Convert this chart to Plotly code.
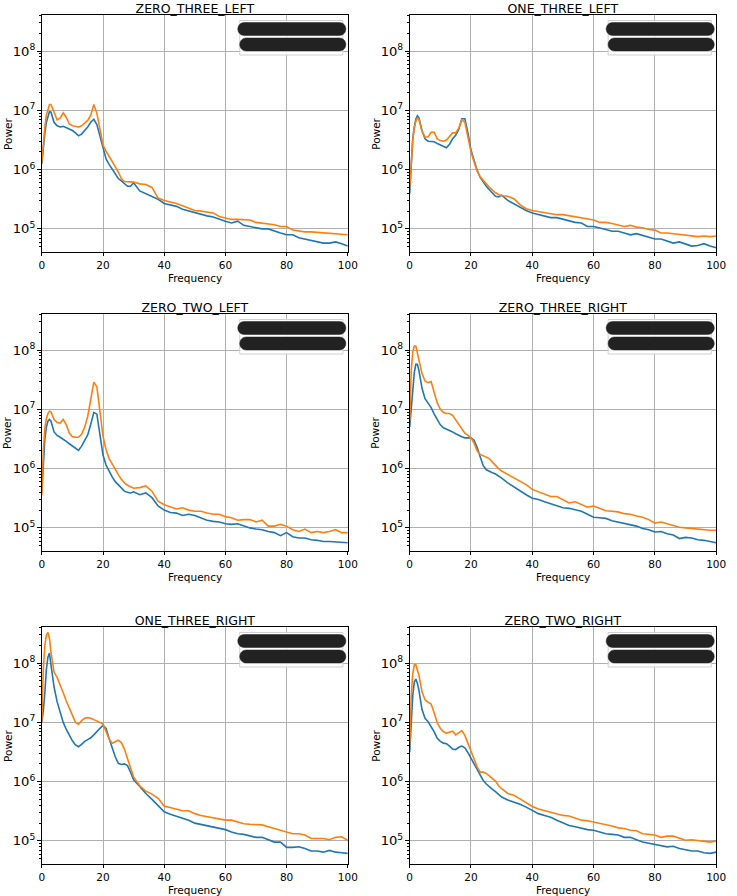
import plotly.graph_objects as go

# ---------------- data (Power values, as log10 decades) -------------
FREQ = [0, 0.5, 1, 1.5, 2, 2.5, 3,
        4, 5, 6, 7, 8, 9, 10, 11, 12, 13, 14, 15, 16, 17, 18, 19, 20,
        21, 22, 23, 24, 25, 26, 27, 28, 29, 30,
        32, 34, 36, 38, 40, 42, 44, 46, 48, 50, 52, 54, 56, 58, 60, 62, 64, 66, 68, 70,
        72, 74, 76, 78, 80, 82, 84, 86, 88, 90, 92, 94, 96, 98, 100]

TITLES = ["ZERO_THREE_LEFT", "ONE_THREE_LEFT", "ZERO_TWO_LEFT",
          "ZERO_THREE_RIGHT", "ONE_THREE_RIGHT", "ZERO_TWO_RIGHT"]

zero_three_left_blue = [6.10, 6.40, 6.62, 6.80, 6.92, 6.98, 6.97,
    6.80, 6.74, 6.72, 6.73, 6.71, 6.68, 6.66, 6.62, 6.57, 6.60, 6.66, 6.72, 6.80, 6.85, 6.76, 6.55, 6.35,
    6.18, 6.09, 6.01, 5.92, 5.85, 5.81, 5.77, 5.72, 5.72, 5.78,
    5.64, 5.59, 5.55, 5.50, 5.43, 5.41, 5.38, 5.33, 5.30, 5.27, 5.24, 5.22, 5.20, 5.16, 5.13, 5.10, 5.13,
    5.06, 5.04, 5.02, 5.00, 5.00, 4.96, 4.93, 4.90, 4.90, 4.85, 4.83, 4.81, 4.79, 4.76, 4.76, 4.78, 4.75, 4.71]
zero_three_left_orange = [6.12, 6.45, 6.72, 6.92, 7.04, 7.10, 7.10,
    6.98, 6.84, 6.87, 6.96, 6.88, 6.77, 6.74, 6.73, 6.72, 6.74, 6.78, 6.83, 6.92, 7.10, 6.95, 6.65, 6.42,
    6.31, 6.23, 6.15, 6.05, 5.96, 5.85, 5.80, 5.80, 5.79, 5.79,
    5.76, 5.75, 5.70, 5.52, 5.48, 5.46, 5.43, 5.39, 5.35, 5.31, 5.30, 5.28, 5.27, 5.21, 5.19, 5.16, 5.16,
    5.15, 5.15, 5.11, 5.10, 5.09, 5.07, 5.04, 5.04, 4.98, 4.96, 4.95, 4.95, 4.94, 4.93, 4.93, 4.91, 4.90, 4.90]

one_three_left_blue = [5.60, 6.20, 6.52, 6.72, 6.85, 6.91, 6.88,
    6.66, 6.52, 6.48, 6.48, 6.47, 6.44, 6.42, 6.40, 6.37, 6.43, 6.52, 6.58, 6.68, 6.86, 6.86, 6.62, 6.33,
    6.16, 5.99, 5.87, 5.79, 5.72, 5.66, 5.61, 5.55, 5.54, 5.57,
    5.48, 5.42, 5.37, 5.31, 5.27, 5.24, 5.21, 5.19, 5.19, 5.16, 5.13, 5.11, 5.10, 5.04, 5.04, 5.02, 4.99,
    4.96, 4.96, 4.93, 4.90, 4.92, 4.89, 4.87, 4.83, 4.83, 4.79, 4.76, 4.78, 4.74, 4.71, 4.72, 4.75, 4.71, 4.68]
one_three_left_orange = [5.70, 6.20, 6.50, 6.70, 6.82, 6.87, 6.85,
    6.65, 6.55, 6.55, 6.63, 6.63, 6.52, 6.49, 6.48, 6.50, 6.56, 6.62, 6.62, 6.70, 6.84, 6.80, 6.55, 6.30,
    6.13, 5.98, 5.88, 5.81, 5.76, 5.70, 5.65, 5.61, 5.58, 5.56,
    5.55, 5.51, 5.41, 5.34, 5.31, 5.29, 5.28, 5.26, 5.24, 5.24, 5.22, 5.20, 5.19, 5.16, 5.15, 5.11, 5.11,
    5.09, 5.07, 5.04, 5.06, 5.03, 5.02, 4.99, 4.98, 4.93, 4.93, 4.92, 4.90, 4.89, 4.89, 4.87, 4.88, 4.87, 4.88]

zero_two_left_blue = [5.60, 6.05, 6.50, 6.70, 6.80, 6.83, 6.80,
    6.62, 6.56, 6.53, 6.50, 6.46, 6.42, 6.38, 6.35, 6.31, 6.38, 6.47, 6.57, 6.75, 6.95, 6.92, 6.55, 6.23,
    6.06, 5.95, 5.86, 5.78, 5.73, 5.67, 5.62, 5.60, 5.59, 5.61,
    5.56, 5.59, 5.51, 5.37, 5.30, 5.26, 5.25, 5.21, 5.23, 5.21, 5.17, 5.13, 5.11, 5.10, 5.07, 5.06, 5.07,
    5.03, 5.00, 4.98, 4.97, 4.94, 4.92, 4.87, 4.92, 4.85, 4.83, 4.83, 4.80, 4.79, 4.77, 4.77, 4.76, 4.75, 4.75]
zero_two_left_orange = [5.55, 6.30, 6.68, 6.85, 6.93, 6.97, 6.96,
    6.83, 6.78, 6.77, 6.83, 6.74, 6.60, 6.54, 6.53, 6.53, 6.58, 6.70, 6.88, 7.15, 7.46, 7.38, 6.94, 6.55,
    6.32, 6.17, 6.08, 5.98, 5.90, 5.82, 5.76, 5.72, 5.69, 5.67,
    5.68, 5.71, 5.62, 5.45, 5.39, 5.35, 5.32, 5.34, 5.30, 5.28, 5.28, 5.25, 5.23, 5.23, 5.19, 5.17, 5.13,
    5.14, 5.14, 5.10, 5.13, 5.03, 5.03, 5.06, 5.03, 4.97, 4.94, 4.98, 4.92, 4.94, 4.92, 4.94, 4.97, 4.92, 4.92]

zero_three_right_blue = [6.70, 7.00, 7.30, 7.62, 7.76, 7.76, 7.66,
    7.36, 7.18, 7.10, 7.03, 6.92, 6.82, 6.74, 6.69, 6.67, 6.65, 6.62, 6.59, 6.56, 6.54, 6.52, 6.52, 6.52,
    6.48, 6.36, 6.20, 6.05, 5.98, 5.95, 5.93, 5.91, 5.88, 5.84,
    5.76, 5.69, 5.62, 5.56, 5.50, 5.48, 5.44, 5.41, 5.37, 5.34, 5.33, 5.31, 5.28, 5.23, 5.18, 5.17, 5.16,
    5.12, 5.10, 5.07, 5.05, 5.03, 4.99, 4.97, 4.93, 4.94, 4.90, 4.88, 4.82, 4.84, 4.83, 4.80, 4.79, 4.77, 4.75]
zero_three_right_orange = [6.80, 7.65, 7.97, 8.07, 8.07, 7.97, 7.84,
    7.61, 7.48, 7.45, 7.47, 7.28, 7.11, 7.00, 6.95, 6.93, 6.93, 6.90, 6.82, 6.74, 6.66, 6.60, 6.56, 6.52,
    6.43, 6.30, 6.24, 6.22, 6.20, 6.17, 6.11, 6.05, 6.00, 5.96,
    5.90, 5.85, 5.79, 5.73, 5.65, 5.61, 5.57, 5.53, 5.53, 5.48, 5.42, 5.44, 5.39, 5.35, 5.37, 5.33, 5.29,
    5.28, 5.27, 5.24, 5.23, 5.20, 5.18, 5.14, 5.08, 5.10, 5.07, 5.05, 5.01, 5.00, 4.99, 4.97, 4.96, 4.96, 4.96]

one_three_right_blue = [7.00, 7.20, 7.50, 7.90, 8.10, 8.17, 7.97,
    7.60, 7.35, 7.17, 7.00, 6.88, 6.78, 6.69, 6.62, 6.59, 6.63, 6.68, 6.71, 6.74, 6.79, 6.85, 6.90, 6.95,
    6.90, 6.73, 6.58, 6.42, 6.31, 6.29, 6.30, 6.27, 6.16, 6.03,
    5.92, 5.80, 5.70, 5.60, 5.49, 5.45, 5.42, 5.39, 5.35, 5.30, 5.28, 5.25, 5.24, 5.21, 5.19, 5.15, 5.12,
    5.11, 5.08, 5.06, 5.06, 5.02, 4.98, 4.98, 4.89, 4.89, 4.90, 4.87, 4.83, 4.83, 4.81, 4.84, 4.81, 4.80, 4.79]
one_three_right_orange = [7.00, 7.90, 8.30, 8.48, 8.52, 8.42, 8.18,
    7.85, 7.76, 7.64, 7.50, 7.36, 7.24, 7.12, 7.00, 6.97, 7.03, 7.07, 7.08, 7.07, 7.05, 7.02, 7.00, 6.97,
    6.85, 6.72, 6.65, 6.67, 6.70, 6.66, 6.55, 6.39, 6.22, 6.08,
    5.93, 5.84, 5.79, 5.72, 5.59, 5.56, 5.53, 5.51, 5.51, 5.46, 5.43, 5.41, 5.39, 5.38, 5.35, 5.35, 5.32,
    5.29, 5.28, 5.28, 5.27, 5.24, 5.21, 5.18, 5.15, 5.12, 5.12, 5.10, 5.04, 5.04, 5.04, 5.02, 5.06, 5.07, 5.01]

zero_two_right_blue = [6.50, 7.05, 7.45, 7.68, 7.73, 7.66, 7.55,
    7.22, 7.07, 7.01, 6.93, 6.84, 6.73, 6.68, 6.65, 6.64, 6.60, 6.55, 6.54, 6.58, 6.60, 6.57, 6.49, 6.40,
    6.29, 6.20, 6.11, 6.02, 5.96, 5.91, 5.87, 5.83, 5.78, 5.74,
    5.69, 5.66, 5.62, 5.57, 5.51, 5.46, 5.43, 5.40, 5.35, 5.30, 5.26, 5.24, 5.21, 5.19, 5.18, 5.15, 5.12,
    5.11, 5.10, 5.06, 5.06, 5.02, 4.98, 4.96, 4.94, 4.91, 4.90, 4.91, 4.87, 4.85, 4.83, 4.83, 4.80, 4.79, 4.81]
zero_two_right_orange = [6.60, 7.45, 7.82, 7.97, 7.97, 7.90, 7.80,
    7.52, 7.38, 7.34, 7.31, 7.16, 6.99, 6.90, 6.84, 6.82, 6.83, 6.85, 6.79, 6.82, 6.86, 6.78, 6.65, 6.53,
    6.38, 6.25, 6.16, 6.16, 6.14, 6.10, 6.05, 6.01, 5.93, 5.88,
    5.80, 5.77, 5.71, 5.64, 5.58, 5.54, 5.51, 5.49, 5.46, 5.43, 5.42, 5.38, 5.35, 5.34, 5.32, 5.29, 5.28,
    5.25, 5.22, 5.21, 5.18, 5.17, 5.12, 5.11, 5.10, 5.06, 5.08, 5.08, 5.04, 5.01, 5.02, 5.01, 5.00, 4.98, 5.00]

SERIES = [
    (zero_three_left_blue, zero_three_left_orange),
    (one_three_left_blue, one_three_left_orange),
    (zero_two_left_blue, zero_two_left_orange),
    (zero_three_right_blue, zero_three_right_orange),
    (one_three_right_blue, one_three_right_orange),
    (zero_two_right_blue, zero_two_right_orange),
]

# ---------------- layout geometry (pixels) ----------------
W, H = 737, 896
COLS = [(39.5, 351.0), (414.0, 726.0)]
ROWS = [(15.0, 252.0), (314.0, 551.0), (627.0, 864.0)]
FONT = "DejaVu Sans, Verdana, sans-serif"
BLUE, ORANGE = "#1f77b4", "#ff7f0e"


def px(x):
    return x / W


def py(y):
    return 1 - y / H


def pill_path(x0, x1, yc, h):
    r = h / 2.0
    k = 0.5523 * r
    pts = [
        ("M", [(x0 + r, yc - r)]),
        ("L", [(x1 - r, yc - r)]),
        ("C", [(x1 - r + k, yc - r), (x1, yc - k), (x1, yc)]),
        ("C", [(x1, yc + k), (x1 - r + k, yc + r), (x1 - r, yc + r)]),
        ("L", [(x0 + r, yc + r)]),
        ("C", [(x0 + r - k, yc + r), (x0, yc + k), (x0, yc)]),
        ("C", [(x0, yc - k), (x0 + r - k, yc - r), (x0 + r, yc - r)]),
    ]
    s = ""
    for cmd, ps in pts:
        s += cmd + " " + " ".join(f"{px(a):.5f},{py(b):.5f}" for a, b in ps) + " "
    return s + "Z"


fig = go.Figure()
layout = dict(width=W, height=H, margin=dict(l=0, r=0, t=0, b=0),
              paper_bgcolor="white", plot_bgcolor="white", showlegend=False,
              font=dict(family=FONT, size=10.5, color="black"))
annotations, shapes = [], []

for i, (title, (blue, orange)) in enumerate(zip(TITLES, SERIES)):
    r, c = divmod(i, 2)
    (l, rt), (t, b) = COLS[c], ROWS[r]
    n = "" if i == 0 else str(i + 1)
    xa, ya = "x" + n, "y" + n
    for vals, col in ((blue, BLUE), (orange, ORANGE)):
        fig.add_trace(go.Scatter(x=FREQ, y=[10 ** v for v in vals], mode="lines",
                                 line=dict(color=col, width=1.6), xaxis=xa, yaxis=ya,
                                 hoverinfo="skip"))
    axcommon = dict(showline=True, mirror=True, linecolor="black", linewidth=0.8,
                    ticks="outside", ticklen=3.5, tickwidth=0.8, tickcolor="black",
                    showgrid=True, gridcolor="#b0b0b0", gridwidth=0.8, zeroline=False,
                    tickfont=dict(family=FONT, size=10.5, color="black"))
    layout["xaxis" + n] = dict(axcommon, domain=[px(l), px(rt)], range=[0, 100],
                               tickvals=[0, 20, 40, 60, 80, 100], anchor=ya)
    layout["yaxis" + n] = dict(axcommon, domain=[py(b), py(t)], type="log",
                               range=[4.61, 8.61], dtick=1, exponentformat="power",
                               minor=dict(ticks="outside", ticklen=2, tickwidth=0.6,
                                          tickcolor="black", showgrid=False),
                               anchor=xa)
    # title (explicit box height so the underscores are not clipped)
    annotations.append(dict(text=title, x=px((l + rt) / 2), y=py(t - 7), xref="paper",
                            yref="paper", xanchor="center", yanchor="middle", width=200,
                            height=20, valign="middle", showarrow=False,
                            font=dict(family=FONT, size=12.5, color="black")))
    annotations.append(dict(text="Frequency", x=px((l + rt) / 2), y=py(b + 26), xref="paper",
                            yref="paper", xanchor="center", yanchor="middle", showarrow=False,
                            font=dict(family=FONT, size=10.5, color="black")))
    annotations.append(dict(text="Power", x=px(l - 35), y=py((t + b) / 2), xref="paper",
                            yref="paper", xanchor="center", yanchor="middle", textangle=-90,
                            showarrow=False, font=dict(family=FONT, size=10.5, color="black")))
    # redacted legend
    shapes.append(dict(type="rect", xref="paper", yref="paper", x0=px(rt - 110), x1=px(rt - 5),
                       y0=py(t + 40), y1=py(t + 5.5), fillcolor="rgba(255,255,255,0.85)",
                       line=dict(color="#d0d0d0", width=1), layer="above"))
    shapes.append(dict(type="path", xref="paper", yref="paper",
                       path=pill_path(rt - 112, rt - 2, t + 14, 13),
                       fillcolor="#222222", line=dict(color="#222222", width=0.5), layer="above"))
    shapes.append(dict(type="path", xref="paper", yref="paper",
                       path=pill_path(rt - 110, rt - 2, t + 29.5, 13),
                       fillcolor="#222222", line=dict(color="#222222", width=0.5), layer="above"))

layout["annotations"] = annotations
layout["shapes"] = shapes
fig.update_layout(**layout)
fig.write_html("out.html", config={"displayModeBar": False},
               post_script="document.body.style.margin='0';document.body.style.overflow='hidden';")
